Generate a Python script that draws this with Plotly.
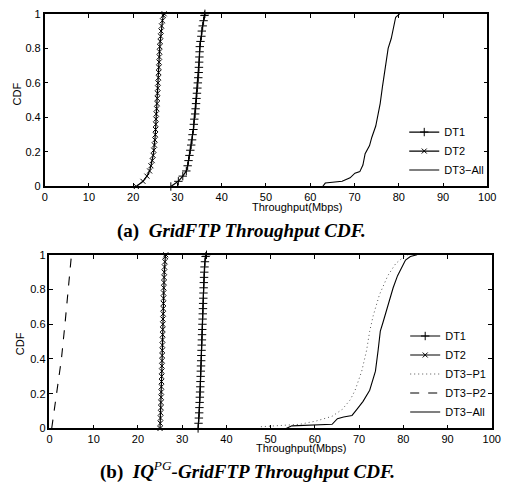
import plotly.graph_objects as go

# ---------------- data ----------------
CDF_LEVELS = [0.00, 0.03, 0.06, 0.09, 0.12, 0.15, 0.18, 0.21, 0.24, 0.27, 0.30, 0.33,
              0.36, 0.39, 0.42, 0.45, 0.48, 0.51, 0.54, 0.57, 0.60, 0.63, 0.66, 0.69,
              0.72, 0.75, 0.78, 0.81, 0.84, 0.87, 0.90, 0.93, 0.96, 0.99, 1.00]

# (a) GridFTP
A_DT1 = [28.5, 30.2, 31.2, 32.0, 32.3, 32.5, 32.7, 32.9, 33.1, 33.3, 33.4, 33.6,
         33.7, 33.8, 34.0, 34.1, 34.2, 34.3, 34.4, 34.5, 34.6, 34.7, 34.8, 34.85,
         34.9, 34.95, 35.0, 35.05, 35.2, 35.4, 35.5, 35.7, 35.9, 36.1, 36.2]
A_DT2 = [20.7, 22.2, 23.1, 23.7, 24.0, 24.3, 24.5, 24.65, 24.8, 24.9, 25.0, 25.05,
         25.1, 25.15, 25.2, 25.3, 25.4, 25.45, 25.5, 25.55, 25.6, 25.7, 25.75, 25.8,
         25.85, 25.9, 25.95, 26.0, 26.1, 26.2, 26.3, 26.4, 26.6, 26.8, 27.0]
A_ALL_X = [62.8, 63.4, 67.2, 69.0, 70.1, 71.2, 71.9, 72.4, 73.4, 73.9, 74.8, 75.2,
           75.8, 76.3, 76.8, 77.6, 78.3, 78.9, 79.3, 80.2]
A_ALL_Y = [0.0, 0.02, 0.03, 0.05, 0.077, 0.086, 0.124, 0.19, 0.237, 0.284, 0.35, 0.406,
           0.48, 0.575, 0.67, 0.80, 0.857, 0.932, 0.98, 1.0]

# (b) IQ^PG-GridFTP
B_DT1 = [33.6, 33.7, 33.78, 33.85, 33.9, 33.95, 34.0, 34.05, 34.1, 34.14, 34.18, 34.22,
         34.26, 34.3, 34.34, 34.38, 34.42, 34.46, 34.5, 34.54, 34.58, 34.62, 34.66, 34.7,
         34.74, 34.78, 34.82, 34.86, 34.9, 34.95, 35.0, 35.05, 35.15, 35.3, 35.5]
B_DT2 = [25.0, 25.05, 25.1, 25.15, 25.2, 25.22, 25.25, 25.28, 25.3, 25.33, 25.36, 25.4,
         25.42, 25.45, 25.48, 25.5, 25.52, 25.55, 25.58, 25.6, 25.63, 25.66, 25.7, 25.72,
         25.75, 25.78, 25.8, 25.84, 25.88, 25.92, 25.96, 26.0, 26.1, 26.2, 26.3]
B_P1_X = [47.8, 56.6, 60.3, 63.9, 66.2, 68.0, 69.1, 70.6, 71.7, 72.4, 73.2, 74.6,
          76.5, 78.3, 80.2, 81.0]
B_P1_Y = [0.01, 0.024, 0.043, 0.07, 0.11, 0.165, 0.22, 0.33, 0.45, 0.56, 0.65, 0.77,
          0.88, 0.95, 0.99, 1.0]
B_P2_X = [0.5, 1.6, 2.7, 3.5, 4.2, 4.9]
B_P2_Y = [0.0, 0.2, 0.4, 0.6, 0.8, 0.98]
B_ALL_X = [53.5, 54.8, 63.9, 65.1, 66.5, 68.4, 69.5, 70.9, 72.4, 73.2, 73.7, 74.3,
           74.8, 75.4, 76.5, 77.7, 78.7, 79.6, 80.5, 81.6, 83.1]
B_ALL_Y = [0.0, 0.015, 0.024, 0.056, 0.066, 0.075, 0.11, 0.156, 0.22, 0.28, 0.33, 0.45,
           0.56, 0.61, 0.71, 0.81, 0.88, 0.93, 0.97, 0.99, 1.0]

X_TICKS = [0, 10, 20, 30, 40, 50, 60, 70, 80, 90, 100]
Y_TICKS = [0, 0.2, 0.4, 0.6, 0.8, 1]
Y_TICKTEXT = ["0", "0.2", "0.4", "0.6", "0.8", "1"]

# ---------------- figure ----------------
W, H = 508, 493
TICKFONT = dict(family="Liberation Sans, Arial, sans-serif", size=11, color="black")
CAPFONT = dict(family="Liberation Serif, Times New Roman, serif", size=19, color="black")

fig = go.Figure()

def marker_trace(x, y, name, symbol, xa, ya, legend, size=6):
    return go.Scatter(x=x, y=y, name=name, mode="lines+markers",
                      line=dict(color="black", width=1.2),
                      marker=dict(symbol=symbol, size=size, color="black",
                                  line=dict(color="black", width=1)),
                      xaxis=xa, yaxis=ya, legend=legend, cliponaxis=False)

def line_trace(x, y, name, dash, xa, ya, legend, color="black", width=1.1):
    return go.Scatter(x=x, y=y, name=name, mode="lines",
                      line=dict(color=color, width=width, dash=dash),
                      xaxis=xa, yaxis=ya, legend=legend, cliponaxis=False)

# top
fig.add_trace(marker_trace(A_DT1, CDF_LEVELS, "DT1", "cross-thin", "x", "y", "legend", 6))
fig.add_trace(marker_trace(A_DT2, CDF_LEVELS, "DT2", "x-thin", "x", "y", "legend", 5))
fig.add_trace(line_trace(A_ALL_X, A_ALL_Y, "DT3\u2212All", "solid", "x", "y", "legend"))
# bottom
fig.add_trace(marker_trace(B_DT1, CDF_LEVELS, "DT1", "cross-thin", "x2", "y2", "legend2", 6))
fig.add_trace(marker_trace(B_DT2, CDF_LEVELS, "DT2", "x-thin", "x2", "y2", "legend2", 5))
fig.add_trace(line_trace(B_P1_X, B_P1_Y, "DT3\u2212P1", "1px,3px", "x2", "y2", "legend2",
                         color="#555555", width=1))
fig.add_trace(line_trace(B_P2_X, B_P2_Y, "DT3\u2212P2", "dash", "x2", "y2", "legend2"))
fig.add_trace(line_trace(B_ALL_X, B_ALL_Y, "DT3\u2212All", "solid", "x2", "y2", "legend2"))

def px_x(p):
    return p / W

def px_y(p):
    return 1 - p / H

axis_common = dict(showline=True, linecolor="black", linewidth=1.5, mirror="ticks",
                   ticks="inside", ticklen=4, tickwidth=1, tickcolor="black",
                   showgrid=False, zeroline=False, tickfont=TICKFONT, fixedrange=True)

fig.update_layout(
    width=W, height=H, margin=dict(l=0, r=0, t=0, b=0),
    paper_bgcolor="white", plot_bgcolor="white", showlegend=True,
    xaxis=dict(domain=[px_x(42.7), px_x(496)], range=[0, 100], tickvals=X_TICKS,
               anchor="y", **axis_common),
    yaxis=dict(domain=[px_y(185), px_y(8)], range=[0, 1], tickvals=Y_TICKS,
               ticktext=Y_TICKTEXT, anchor="x", **axis_common),
    xaxis2=dict(domain=[px_x(47.6), px_x(500.6)], range=[0, 100], tickvals=X_TICKS,
                anchor="y2", **axis_common),
    yaxis2=dict(domain=[px_y(433), px_y(255)], range=[0, 1], tickvals=Y_TICKS,
                ticktext=Y_TICKTEXT, anchor="x2", **axis_common),
    legend=dict(x=px_x(498), y=px_y(183), xanchor="right", yanchor="bottom",
                bgcolor="rgba(0,0,0,0)", borderwidth=0, font=TICKFONT,
                tracegroupgap=0),
    legend2=dict(x=px_x(500), y=px_y(431), xanchor="right", yanchor="bottom",
                 bgcolor="rgba(0,0,0,0)", borderwidth=0, font=TICKFONT,
                 tracegroupgap=0),
)

annots = [
    dict(text="CDF", x=px_x(14), y=px_y(90), textangle=-90),
    dict(text="CDF", x=px_x(17), y=px_y(346), textangle=-90),
    dict(text="Throughput(Mbps)", x=px_x(302), y=px_y(206)),
    dict(text="Throughput(Mbps)", x=px_x(306), y=px_y(453)),
]
for a in annots:
    fig.add_annotation(xref="paper", yref="paper", showarrow=False,
                       xanchor="center", yanchor="middle", font=TICKFONT, **a)

fig.add_annotation(xref="paper", yref="paper", showarrow=False,
                   x=px_x(244), y=px_y(231), xanchor="center", yanchor="middle",
                   font=CAPFONT,
                   text="<b>(a)</b>  <b><i>GridFTP Throughput CDF.</i></b>")
fig.add_annotation(xref="paper", yref="paper", showarrow=False,
                   x=px_x(250), y=px_y(476), xanchor="center", yanchor="middle",
                   font=CAPFONT,
                   text="<b>(b)</b>  <b><i>IQ</i></b><i><sup>PG</sup></i>"
                        "<b><i>-GridFTP Throughput CDF.</i></b>")

fig.write_html("out.html")
